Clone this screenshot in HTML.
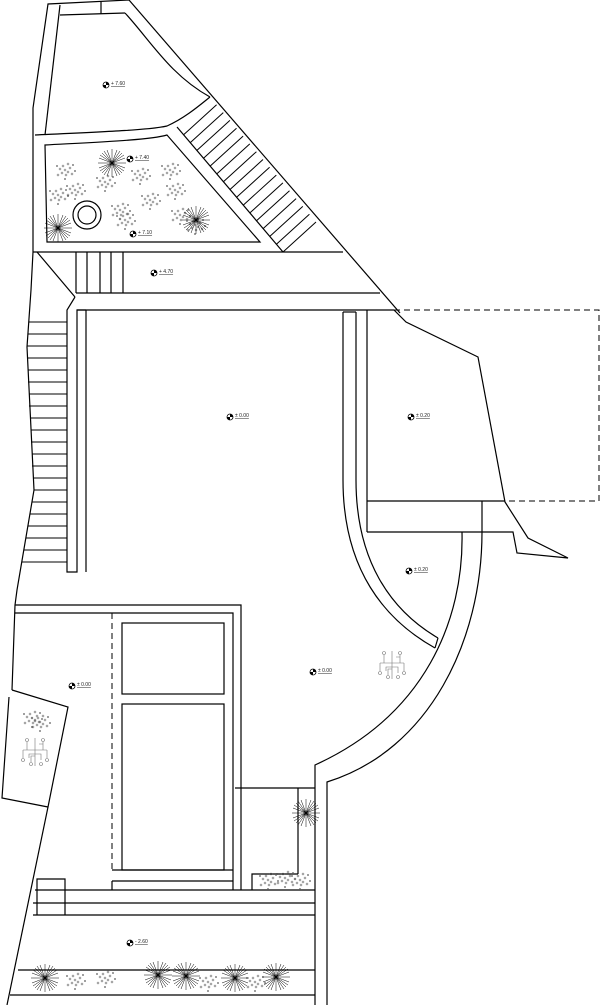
<!DOCTYPE html>
<html><head><meta charset="utf-8"><style>
html,body{margin:0;padding:0;background:#fff;}
svg{display:block;}
text{font-family:"Liberation Sans",sans-serif;font-size:5px;fill:#222;text-decoration:underline;}
</style></head><body>
<svg width="600" height="1005" viewBox="0 0 600 1005" xmlns="http://www.w3.org/2000/svg">
<defs>
<g id="m"><circle r="3" fill="#fff" stroke="#000" stroke-width="0.8"/><path d="M0,0 L0,-3 A3,3 0 0 1 3,0 Z M0,0 L0,3 A3,3 0 0 1 -3,0 Z" fill="#000"/></g>
<g id="star" stroke="#000" stroke-width="0.5">
<line x1="-14" y1="0" x2="14" y2="0"/><line x1="0" y1="-14" x2="0" y2="14"/>
<line x1="-10" y1="-10" x2="10" y2="10"/><line x1="-10" y1="10" x2="10" y2="-10"/>
<line x1="-13" y1="-5" x2="13" y2="5"/><line x1="-13" y1="5" x2="13" y2="-5"/>
<line x1="-5" y1="-13" x2="5" y2="13"/><line x1="5" y1="-13" x2="-5" y2="13"/>
<line x1="-12" y1="-8" x2="12" y2="8"/><line x1="-12" y1="8" x2="12" y2="-8"/>
<line x1="-8" y1="-12" x2="8" y2="12"/><line x1="8" y1="-12" x2="-8" y2="12"/>
</g>
<g id="bush" fill="none" stroke="#555" stroke-width="0.5">
<circle cx="0" cy="0" r="1"/><circle cx="3" cy="2" r="1"/><circle cx="-3" cy="3" r="1"/><circle cx="5" cy="-2" r="1"/><circle cx="-5" cy="-1" r="1"/><circle cx="1" cy="5" r="1"/><circle cx="-2" cy="-4" r="1"/><circle cx="7" cy="4" r="1"/><circle cx="-7" cy="5" r="1"/><circle cx="3" cy="-6" r="1"/><circle cx="8" cy="-5" r="0.8"/><circle cx="-8" cy="-4" r="0.8"/><circle cx="0" cy="9" r="0.8"/><circle cx="10" cy="1" r="0.8"/>
</g>
<g id="tree" fill="none" stroke="#777" stroke-width="0.6">
<path d="M0,-14 V14 M-12,-2 H12 M-8,-10 V-2 M8,-10 V-2 M-6,6 V2 H6 V8 M-12,-2 V6 M12,-2 V6 M0,4 H-4 V10 M4,-8 H8"/>
<circle cx="-12" cy="8" r="1.5"/><circle cx="12" cy="8" r="1.5"/><circle cx="-4" cy="12" r="1.5"/><circle cx="6" cy="12" r="1.5"/><circle cx="-8" cy="-12" r="1.5"/><circle cx="8" cy="-12" r="1.5"/>
</g>
</defs>
<g fill="none" stroke="#000" stroke-width="1.2">
<path d="M129,0 L48,4 L33,108 L33,252"/>
<path d="M60,5 L45,135"/>
<path d="M60,15 L125,13"/>
<line x1="101" y1="1" x2="101" y2="14"/>
<path d="M129,0 L400,313"/>
<path d="M125,13 C150,40 170,75 210,97"/>
<path d="M35,135 C100,132 150,130 167,126 C185,118 200,105 210,97"/>
<path d="M45,145 C100,142 150,140 167,135 L260,242 L47,242 Z"/>
<path d="M177,127 L283,252"/>
<line x1="33" y1="252" x2="343" y2="252"/>
<line x1="76" y1="293" x2="380" y2="293"/>
<path d="M37,252 L75,297"/>
<line x1="76" y1="252" x2="76" y2="293"/><line x1="87" y1="252" x2="87" y2="293"/><line x1="100" y1="252" x2="100" y2="293"/><line x1="111" y1="252" x2="111" y2="293"/><line x1="123" y1="252" x2="123" y2="293"/>
<circle cx="87" cy="215" r="14"/><circle cx="87" cy="215" r="9"/>
</g>
<g stroke="#000" stroke-width="1">
<line x1="183.6" y1="134.8" x2="216.6" y2="104.8"/><line x1="190.3" y1="142.6" x2="223.3" y2="112.6"/><line x1="196.9" y1="150.4" x2="229.9" y2="120.4"/><line x1="203.5" y1="158.3" x2="236.5" y2="128.3"/><line x1="210.1" y1="166.1" x2="243.1" y2="136.1"/><line x1="216.8" y1="173.9" x2="249.8" y2="143.9"/><line x1="223.4" y1="181.7" x2="256.4" y2="151.7"/><line x1="230" y1="189.5" x2="263" y2="159.5"/><line x1="236.6" y1="197.3" x2="269.6" y2="167.3"/><line x1="243.3" y1="205.1" x2="276.3" y2="175.1"/><line x1="249.9" y1="212.9" x2="282.9" y2="182.9"/><line x1="256.5" y1="220.8" x2="289.5" y2="190.8"/><line x1="263.1" y1="228.6" x2="296.1" y2="198.6"/><line x1="269.8" y1="236.4" x2="302.8" y2="206.4"/><line x1="276.4" y1="244.2" x2="309.4" y2="214.2"/><line x1="283" y1="252" x2="316" y2="222"/>
</g>
<g fill="none" stroke="#000" stroke-width="1.2">
<path d="M33,252 L31,290 L27,347 L34,490 L17,590 L15,605 L12,690"/>
<path d="M75,297 L67,310 L67,572 L77,572 L77,310 L394,310"/>
<path d="M77,310 L86,310"/>
<line x1="86" y1="310" x2="86" y2="572"/>
<path d="M394,310 L406,322 L478,357 L505,502 L528,538 L568,558 L517,553 L513,532 L367,532"/>
<line x1="367" y1="310" x2="367" y2="532"/>
<line x1="367" y1="501" x2="505" y2="501"/>
<line x1="482" y1="501" x2="482" y2="532"/>
<path d="M343,312 L343,480 C343,570 385,620 435,648"/>
<path d="M356,312 L356,480 C356,560 390,610 438,638"/>
<path d="M343,312 L356,312"/>
<line x1="435" y1="648" x2="438" y2="638"/>
<path d="M462,532 C464,620 425,715 315,765 L315,1005"/>
<path d="M482,532 C482,640 430,750 327,782 L327,1005"/>
<path d="M15,605 L241,605 L241,890"/>
<path d="M15,613 L233,613 L233,890"/>
<rect x="122" y="623" width="102" height="71"/>
<rect x="122" y="704" width="102" height="166"/>
<line x1="112" y1="870" x2="233" y2="870"/>
<line x1="112" y1="881" x2="233" y2="881"/>
<line x1="112" y1="881" x2="112" y2="890"/>
<path d="M12,690 L68,707 L48,807 L2,798 L9,697"/>
<path d="M48,807 L7,1005"/>
<line x1="35" y1="890" x2="315" y2="890"/>
<line x1="33" y1="903" x2="315" y2="903"/>
<line x1="33" y1="915" x2="315" y2="915"/>
<path d="M37,915 L37,879 L65,879 L65,915"/>
<line x1="235" y1="788" x2="315" y2="788"/>
<line x1="298" y1="788" x2="298" y2="874"/>
<path d="M252,890 L252,874 L298,874"/>
<line x1="18" y1="970" x2="315" y2="970"/>
<line x1="10" y1="995" x2="315" y2="995"/>
</g>
<g fill="none" stroke="#000" stroke-width="1" stroke-dasharray="6,4">
<path d="M394,310 L599,310 L599,501 L505,501"/>
<line x1="112" y1="613" x2="112" y2="870"/>
</g>
<g stroke="#000" stroke-width="1">
<line x1="29" y1="322" x2="67" y2="322"/><line x1="28" y1="334" x2="67" y2="334"/><line x1="27" y1="346" x2="67" y2="346"/><line x1="27" y1="358" x2="67" y2="358"/><line x1="28" y1="370" x2="67" y2="370"/><line x1="28" y1="382" x2="67" y2="382"/><line x1="29" y1="394" x2="67" y2="394"/><line x1="29" y1="406" x2="67" y2="406"/><line x1="30" y1="418" x2="67" y2="418"/><line x1="31" y1="430" x2="67" y2="430"/><line x1="31" y1="442" x2="67" y2="442"/><line x1="32" y1="454" x2="67" y2="454"/><line x1="32" y1="466" x2="67" y2="466"/><line x1="33" y1="478" x2="67" y2="478"/><line x1="34" y1="490" x2="67" y2="490"/><line x1="32" y1="502" x2="67" y2="502"/><line x1="30" y1="514" x2="67" y2="514"/><line x1="28" y1="526" x2="67" y2="526"/><line x1="26" y1="538" x2="67" y2="538"/><line x1="24" y1="550" x2="67" y2="550"/><line x1="22" y1="562" x2="67" y2="562"/>
</g>
<use href="#bush" x="65" y="170"/><use href="#bush" x="75" y="190"/><use href="#bush" x="58" y="195"/><use href="#bush" x="105" y="182"/><use href="#bush" x="120" y="210"/><use href="#bush" x="125" y="220"/><use href="#bush" x="170" y="170"/><use href="#bush" x="175" y="190"/><use href="#bush" x="180" y="215"/><use href="#bush" x="195" y="225"/><use href="#bush" x="140" y="175"/><use href="#bush" x="150" y="200"/>
<use href="#star" x="112" y="163"/><use href="#star" x="196" y="220"/><use href="#star" x="58" y="228"/>
<use href="#bush" x="32" y="718"/><use href="#bush" x="40" y="722"/>
<use href="#tree" x="35" y="752"/><use href="#tree" x="392" y="665"/>
<use href="#star" x="306" y="813"/>
<use href="#bush" x="268" y="880"/><use href="#bush" x="285" y="878"/><use href="#bush" x="300" y="880"/>
<use href="#star" x="45" y="978"/><use href="#star" x="158" y="975"/><use href="#star" x="186" y="976"/><use href="#star" x="235" y="978"/><use href="#star" x="276" y="977"/>
<use href="#bush" x="75" y="980"/><use href="#bush" x="105" y="978"/><use href="#bush" x="208" y="982"/><use href="#bush" x="255" y="982"/>
<use href="#m" x="106" y="85"/><text x="111" y="85">+ 7.60</text>
<use href="#m" x="130" y="159"/><text x="135" y="159">+ 7.40</text>
<use href="#m" x="133" y="234"/><text x="138" y="234">+ 7.10</text>
<use href="#m" x="154" y="273"/><text x="159" y="273">+ 4.70</text>
<use href="#m" x="230" y="417"/><text x="235" y="417">± 0.00</text>
<use href="#m" x="411" y="417"/><text x="416" y="417">± 0.20</text>
<use href="#m" x="409" y="571"/><text x="414" y="571">± 0.20</text>
<use href="#m" x="313" y="672"/><text x="318" y="672">± 0.00</text>
<use href="#m" x="72" y="686"/><text x="77" y="686">± 0.00</text>
<use href="#m" x="130" y="943"/><text x="135" y="943">- 2.60</text>
</svg>
</body></html>
